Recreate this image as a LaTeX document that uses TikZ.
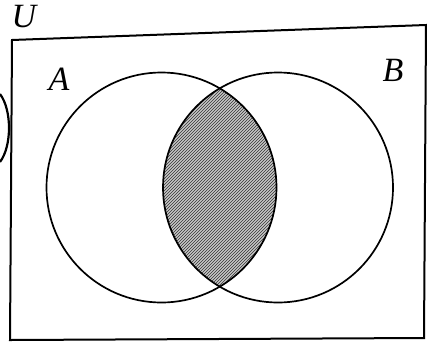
\documentclass[tikz,border=0pt]{standalone}
\usepackage{fontspec}
\setmainfont{Liberation Serif}
\usepackage{tikz}
\usetikzlibrary{patterns}

\begin{document}
\begin{tikzpicture}[
  x=1pt, y=-1pt,
  line width=1.7pt,
  lbl/.style={font=\fontsize{34}{38}\selectfont\itshape, inner sep=0pt},
]
\useasboundingbox (0,0) rectangle (427,343);
% universe
\draw[line width=2pt] (12,40) -- (426,25) -- (424,338) -- (10,340) -- cycle;
\node[lbl] (labU) at (24,17) {U};
\node[lbl] (labA) at (59,79) {A};
\node[lbl] (labB) at (393,70) {B};
% sets
\coordinate (cA) at (161.5,187.5);
\coordinate (cB) at (278,187.5);
\begin{scope}
  \clip (cA) circle (115);
  \fill[black!22] (cB) circle (115);
  \fill[pattern=north east lines, pattern color=black!80] (cB) circle (115);
\end{scope}
\draw (cA) circle (115);
\draw (cB) circle (115);
% edge of the next figure
\draw[line width=2.2pt] (0,94) .. controls (12,110) and (12,146) .. (0,162);
\end{tikzpicture}
\end{document}
